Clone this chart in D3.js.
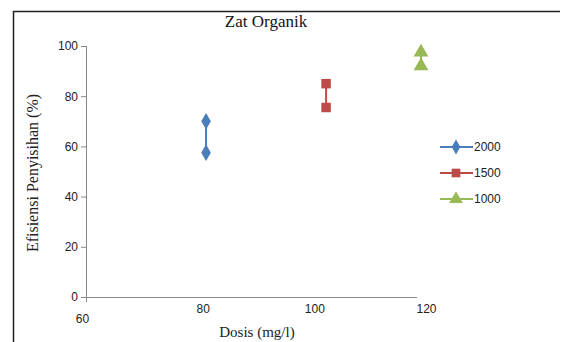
<!DOCTYPE html>
<html>
<head>
<meta charset="utf-8">
<script src="https://cdn.jsdelivr.net/npm/d3@7"></script>
<style>
  body { margin: 0; background: #fff; }
  svg { display: block; }
</style>
</head>
<body>
<div id="container"></div>
<script>
/*** DATA ***/
const seriesNames = ["2000", "1500", "1000"];
const seriesColors = ["#4a7ebb", "#be4b48", "#98b954"];
const seriesShapes = [d3.symbolDiamond, d3.symbolSquare, d3.symbolTriangle];
// dosis (mg/l) per series, two readings each
const dosis = [[81.5, 81.5], [103, 103], [120, 120]];
const efisiensi = [[70, 57.5], [85, 75.5], [97.5, 92]];
const xTicks = [60, 80, 100, 120];
const yTicks = [0, 20, 40, 60, 80, 100];

const width = 563, height = 342;

const svg = d3.select("#container")
  .append("svg")
  .attr("width", width)
  .attr("height", height);

// frame of the pasted chart
svg.append("path")
  .attr("d", "M13.5,344 V11.5 H560")
  .attr("fill", "none")
  .attr("stroke", "#222")
  .attr("stroke-width", 1.5);

const x = d3.scaleLinear().domain([60, 120]).range([86, 421]);
const y = d3.scaleLinear().domain([0, 100]).range([297, 46]);

const sans = "'Liberation Sans', Arial, sans-serif";
const serif = "'Liberation Serif', 'Times New Roman', serif";

// y axis
const yAxis = svg.append("g")
  .attr("transform", "translate(86,0)")
  .call(d3.axisLeft(y).tickValues(yTicks).tickSize(5).tickPadding(3));
yAxis.select(".domain").remove();
yAxis.append("line")
  .attr("x1", 0.5).attr("x2", 0.5)
  .attr("y1", y(100)).attr("y2", y(0) + 5)
  .attr("stroke", "#888");
yAxis.selectAll(".tick line").attr("stroke", "#888");
yAxis.selectAll("text")
  .attr("fill", "#222")
  .style("font-family", sans)
  .style("font-size", "12px");

// x axis
const xAxis = svg.append("g")
  .attr("transform", `translate(0,${y(0)})`)
  .call(d3.axisBottom(x).tickValues(xTicks).tickSize(0).tickPadding(9));
xAxis.select(".domain").remove();
xAxis.append("line")
  .attr("x1", x(60)).attr("x2", 417)
  .attr("y1", 0.5).attr("y2", 0.5)
  .attr("stroke", "#888");
xAxis.selectAll("text")
  .attr("fill", "#222")
  .attr("dx", d => d === 60 ? -4 : 5)
  .attr("dy", d => d === 60 ? "1.4em" : "0.6em")
  .style("font-family", sans)
  .style("font-size", "12px");

// title
svg.append("text")
  .attr("x", 266).attr("y", 27)
  .attr("text-anchor", "middle")
  .style("font-family", serif)
  .style("font-size", "17px")
  .attr("fill", "#111")
  .text("Zat Organik");

// axis titles
svg.append("text")
  .attr("transform", "translate(38,173) rotate(-90)")
  .attr("text-anchor", "middle")
  .style("font-family", serif)
  .style("font-size", "16px")
  .attr("fill", "#222")
  .text("Efisiensi Penyisihan (%)");

svg.append("text")
  .attr("x", 257).attr("y", 337)
  .attr("text-anchor", "middle")
  .style("font-family", serif)
  .style("font-size", "15px")
  .attr("fill", "#222")
  .text("Dosis (mg/l)");

// series
const series = seriesNames.map((name, i) => ({
  name, color: seriesColors[i], shape: seriesShapes[i],
  points: dosis[i].map((d, j) => [d, efisiensi[i][j]])
}));

const line = d3.line().x(d => x(d[0])).y(d => y(d[1]));
const symbolSize = [80, 90, 95];

series.forEach((s, i) => {
  svg.append("path")
    .attr("d", line(s.points))
    .attr("fill", "none")
    .attr("stroke", s.color)
    .attr("stroke-width", 2);
  svg.selectAll(".pt" + i)
    .data(s.points)
    .join("path")
    .attr("class", "pt" + i)
    .attr("transform", d => `translate(${x(d[0])},${y(d[1])})`)
    .attr("d", d3.symbol().type(s.shape).size(symbolSize[i]))
    .attr("fill", s.color);
});

// legend
const legend = svg.selectAll(".legend")
  .data(series)
  .join("g")
  .attr("class", "legend")
  .attr("transform", (d, i) => `translate(440,${147 + i * 26})`);
legend.append("line")
  .attr("x1", 0).attr("x2", 33)
  .attr("stroke", d => d.color)
  .attr("stroke-width", 2);
legend.append("path")
  .attr("transform", "translate(16,0)")
  .attr("d", (d, i) => d3.symbol().type(d.shape).size(symbolSize[i] - 15)())
  .attr("fill", d => d.color);
legend.append("text")
  .attr("x", 34).attr("dy", "0.35em")
  .style("font-family", sans)
  .style("font-size", "12px")
  .attr("fill", "#222")
  .text(d => d.name);
</script>
</body>
</html>
